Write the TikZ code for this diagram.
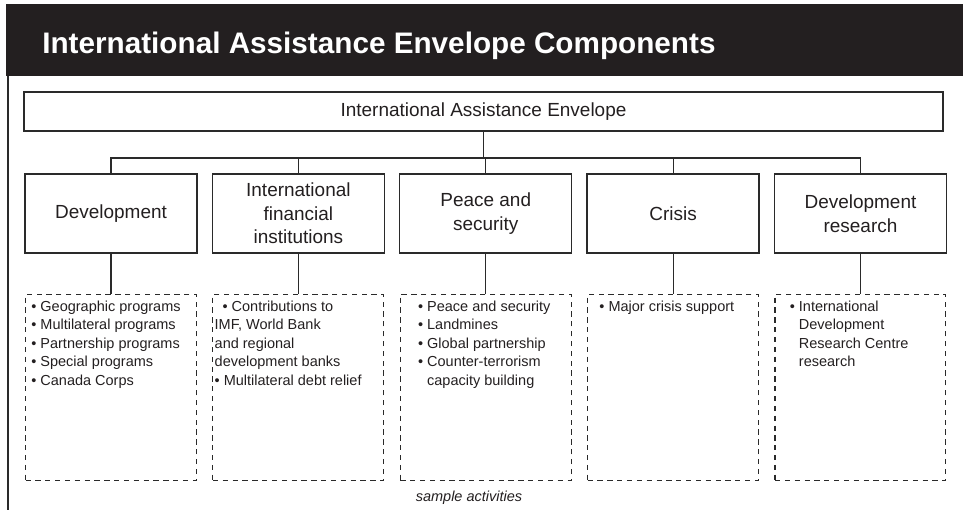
\documentclass[tikz,border=0pt]{standalone}
\usepackage{fontspec}
\setmainfont{Liberation Sans}
\usepackage{xcolor}
\usetikzlibrary{positioning}
\definecolor{barblack}{HTML}{231F20}
\definecolor{inkgray}{HTML}{2A2A2A}

\begin{document}
\begin{tikzpicture}[x=0.02cm, y=-0.02cm, node distance=0.28cm,
    comp/.style={draw=inkgray, line width=0.8pt, minimum width=3.44cm, minimum height=1.58cm,
        align=center, inner sep=2pt, text=barblack, font=\fontsize{10.8pt}{13.4pt}\selectfont},
    actbox/.style={draw=inkgray, dash pattern=on 3pt off 2.6pt, line width=0.6pt,
        minimum width=3.42cm, minimum height=3.72cm},
    acttext/.style={anchor=north west, inner sep=0pt, align=left, text=barblack,
        font=\fontsize{8.25pt}{10.5pt}\selectfont},
    link/.style={draw=inkgray, line width=0.7pt}]
    \useasboundingbox (0,0) rectangle (963,514);

    % 1. Title bar
    \fill[barblack] (6,4) rectangle (963,76);
    \draw[inkgray, line width=0.6pt] (8,76) -- (8,510);
    \node[anchor=base west, text=white, inner sep=0pt,
        font=\fontsize{16.9pt}{20pt}\selectfont\bfseries] (title) at (42,53)
        {International Assistance Envelope Components};

    % 2. Envelope and its components
    \node[draw=inkgray, line width=0.8pt, minimum width=18.38cm, minimum height=0.78cm,
        text=barblack, font=\fontsize{10.8pt}{13.4pt}\selectfont] (env) at (483.5,111.5)
        {International Assistance Envelope};
    \coordinate (bus) at (483.5,158);

    \node[comp] (dev) at (111,213.5) {Development};
    \node[comp, right=of dev] (ifi) {International\\financial\\institutions};
    \node[comp, right=of ifi] (peace) {Peace and\\security};
    \node[comp, right=of peace] (crisis) {Crisis};
    \node[comp, right=of crisis] (devres) {Development\\research};

    % connectors
    \draw[link] (env.south) -- (bus);
    \draw[link] (dev.north) |- (bus) -| (devres.north);
    \draw[link] (ifi.north) -- (ifi.north |- bus);
    \draw[link] (peace.north) -- (peace.north |- bus);
    \draw[link] (crisis.north) -- (crisis.north |- bus);

    % 3. Sample activities (dashed)
    \node[actbox, below=0.8cm of dev] (devact) {};
    \node[actbox, below=0.8cm of ifi] (ifiact) {};
    \node[actbox, below=0.8cm of peace] (peaceact) {};
    \node[actbox, below=0.8cm of crisis] (crisisact) {};
    \node[actbox, below=0.8cm of devres] (devresact) {};

    \draw[link] (dev.south) -- (devact.north);
    \draw[link] (ifi.south) -- (ifiact.north);
    \draw[link] (peace.south) -- (peaceact.north);
    \draw[link] (crisis.south) -- (crisisact.north);
    \draw[link] (devres.south) -- (devresact.north);

    \node[acttext] (devlist) at ([shift={(6,7)}]devact.north west)
        {\textbullet\ Geographic programs\\
         \textbullet\ Multilateral programs\\
         \textbullet\ Partnership programs\\
         \textbullet\ Special programs\\
         \textbullet\ Canada Corps};
    \node[acttext] (ifilist) at ([shift={(2,7)}]ifiact.north west)
        {\hspace*{4.5pt}\textbullet\ Contributions to\\
         IMF, World Bank\\
         and regional\\
         development banks\\
         \textbullet\ Multilateral debt relief};
    \node[acttext] (peacelist) at ([shift={(18,7)}]peaceact.north west)
        {\textbullet\ Peace and security\\
         \textbullet\ Landmines\\
         \textbullet\ Global partnership\\
         \textbullet\ Counter-terrorism\\
         \phantom{\textbullet\ }capacity building};
    \node[acttext] (crisislist) at ([shift={(12,7)}]crisisact.north west)
        {\textbullet\ Major crisis support};
    \node[acttext] (devreslist) at ([shift={(15,7)}]devresact.north west)
        {\textbullet\ International\\
         \phantom{\textbullet\ }Development\\
         \phantom{\textbullet\ }Research Centre\\
         \phantom{\textbullet\ }research};

    \node[text=barblack, font=\fontsize{8.25pt}{10pt}\selectfont\itshape] (sample) at (469,498)
        {sample activities};
\end{tikzpicture}
\end{document}
